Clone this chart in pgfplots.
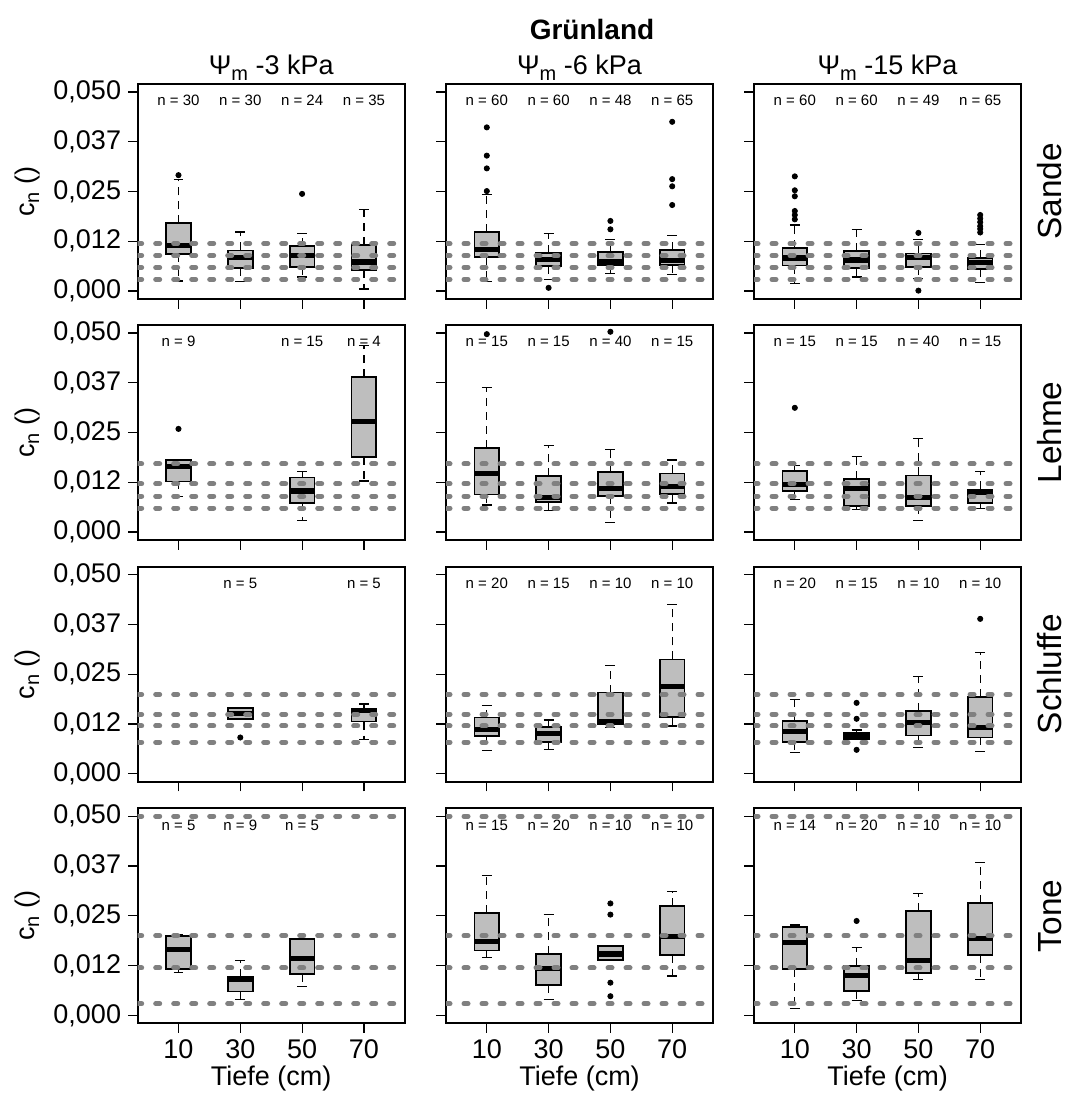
\documentclass[border=0pt]{standalone}
\usepackage{pgfplots}
\pgfplotsset{compat=1.18}
\usepackage{fontspec}
\setmainfont{Liberation Sans}
\definecolor{boxfill}{HTML}{BEBEBE}
\definecolor{refgray}{HTML}{808080}

\newcommand{\bfs}{\fontsize{13.5}{16}\selectfont}
\newcommand{\sub}[1]{\raisebox{-2.6pt}{\fontsize{10}{10}\selectfont #1}}

\pgfplotsset{
  panel/.style={
    scale only axis, width=133.5pt, height=107.5pt,
    anchor=south west,
    xmin=0.34, xmax=4.66, ymin=-0.002, ymax=0.052,
    xtick={1,2,3,4}, ytick={0,0.0125,0.025,0.0375,0.05},
    xticklabels={}, yticklabels={},
    scaled y ticks=false, scaled x ticks=false,
    xtick pos=left, ytick pos=left,
    tick align=outside, major tick length=4.8pt,
    axis line style={line width=0.9pt},
    tick style={black, line width=0.6pt},
    tick label style={font=\bfs},
  },
  ylab/.style={yticklabels={{\textnormal{0,000}},{\textnormal{0,012}},{\textnormal{0,025}},{\textnormal{0,037}},{\textnormal{0,050}}}},
  xlab/.style={xticklabels={{\textnormal{10}},{\textnormal{30}},{\textnormal{50}},{\textnormal{70}}}},
  wsk/.style={black, line width=0.6pt, dash pattern=on 4pt off 3pt, forget plot},
  cap/.style={black, line width=0.6pt, solid, forget plot},
  refline/.style={refgray, line width=2.5pt, line cap=round, dash pattern=on 2pt off 7pt, forget plot},
}

% \bx{pos}{lower whisker}{Q1}{median}{Q3}{upper whisker}
\newcommand{\bx}[6]{%
  \pgfmathsetmacro{\xl}{#1-0.2}\pgfmathsetmacro{\xr}{#1+0.2}%
  \pgfmathsetmacro{\cl}{#1-0.08}\pgfmathsetmacro{\cr}{#1+0.08}%
  \addplot[wsk] coordinates {(#1,#3) (#1,#2)};
  \addplot[wsk] coordinates {(#1,#5) (#1,#6)};
  \addplot[cap] coordinates {(\cl,#2) (\cr,#2)};
  \addplot[cap] coordinates {(\cl,#6) (\cr,#6)};
  \addplot[draw=black, fill=boxfill, line width=0.9pt, forget plot] coordinates {(\xl,#3) (\xr,#3) (\xr,#5) (\xl,#5)} -- cycle;
  \addplot[black, line width=2.6pt, forget plot] coordinates {(\xl,#4) (\xr,#4)};
}
\newcommand{\ol}[1]{\addplot[only marks, mark=*, mark size=1.3pt, black, forget plot] coordinates {#1};}
\newcommand{\refl}[1]{\addplot[refline] coordinates {(0.34,#1) (4.66,#1)};}
\newcommand{\nlab}[2]{\node[font=\fontsize{7.5}{8}\selectfont] at (axis cs:#1,0.0478) {n = #2};}

\begin{document}
\begin{tikzpicture}
\useasboundingbox (0,0) rectangle (533.5pt,547.5pt);

% ---------------- Row 1: Sande ----------------
\begin{axis}[panel, ylab, at={(68.85pt,398pt)}]
\bx{1}{0.0025}{0.0092}{0.0114}{0.0170}{0.0281}\ol{(1,0.0291)}
\bx{2}{0.0023}{0.0058}{0.0085}{0.0102}{0.0148}
\bx{3}{0.0035}{0.0060}{0.0089}{0.0113}{0.0145}\ol{(3,0.0244)}
\bx{4}{0.0005}{0.0052}{0.0073}{0.0116}{0.0204}
\refl{0.0119}\refl{0.0089}\refl{0.0059}\refl{0.0029}
\nlab{1}{30}\nlab{2}{30}\nlab{3}{24}\nlab{4}{35}
\end{axis}
\begin{axis}[panel, at={(223pt,398pt)}]
\bx{1}{0.0023}{0.0086}{0.0105}{0.0149}{0.0243}\ol{(1,0.0411)(1,0.0340)(1,0.0308)(1,0.0251)}
\bx{2}{0.0029}{0.0062}{0.0080}{0.0096}{0.0144}\ol{(2,0.0008)}
\bx{3}{0.0045}{0.0065}{0.0073}{0.0098}{0.0130}\ol{(3,0.0176)(3,0.0155)}
\bx{4}{0.0042}{0.0066}{0.0076}{0.0104}{0.0139}\ol{(4,0.0425)(4,0.0281)(4,0.0263)(4,0.0216)}
\refl{0.0119}\refl{0.0089}\refl{0.0059}\refl{0.0029}
\nlab{1}{60}\nlab{2}{60}\nlab{3}{48}\nlab{4}{65}
\end{axis}
\begin{axis}[panel, at={(377pt,398pt)}]
\bx{1}{0.0019}{0.0064}{0.0083}{0.0108}{0.0166}\ol{(1,0.0288)(1,0.0253)(1,0.0238)(1,0.0201)(1,0.0191)(1,0.0180)}
\bx{2}{0.0035}{0.0057}{0.0078}{0.0101}{0.0154}
\bx{3}{0.0032}{0.0061}{0.0084}{0.0094}{0.0129}\ol{(3,0.0146)(3,0.0001)}
\bx{4}{0.0021}{0.0055}{0.0072}{0.0082}{0.0116}\ol{(4,0.0191)(4,0.0182)(4,0.0173)(4,0.0163)(4,0.0156)(4,0.0147)}
\refl{0.0119}\refl{0.0089}\refl{0.0059}\refl{0.0029}
\nlab{1}{60}\nlab{2}{60}\nlab{3}{49}\nlab{4}{65}
\end{axis}

% ---------------- Row 2: Lehme ----------------
\begin{axis}[panel, ylab, at={(68.85pt,277.5pt)}]
\bx{1}{0.0090}{0.0127}{0.0165}{0.0180}{0.0180}\ol{(1,0.0259)}
\bx{3}{0.0029}{0.0072}{0.0103}{0.0137}{0.0152}
\bx{4}{0.0128}{0.0188}{0.0277}{0.0389}{0.0469}
\refl{0.0171}\refl{0.0121}\refl{0.0090}\refl{0.0060}
\nlab{1}{9}\nlab{3}{15}\nlab{4}{4}
\end{axis}
\begin{axis}[panel, at={(223pt,277.5pt)}]
\bx{1}{0.0068}{0.0094}{0.0148}{0.0212}{0.0364}\ol{(1,0.0497)}
\bx{2}{0.0055}{0.0075}{0.0087}{0.0140}{0.0217}
\bx{3}{0.0023}{0.0090}{0.0109}{0.0150}{0.0207}\ol{(3,0.0503)}
\bx{4}{0.0073}{0.0096}{0.0115}{0.0147}{0.0181}
\refl{0.0171}\refl{0.0121}\refl{0.0090}\refl{0.0060}
\nlab{1}{15}\nlab{2}{15}\nlab{3}{40}\nlab{4}{15}
\end{axis}
\begin{axis}[panel, at={(377pt,277.5pt)}]
\bx{1}{0.0081}{0.0103}{0.0119}{0.0153}{0.0168}\ol{(1,0.0312)}
\bx{2}{0.0056}{0.0065}{0.0110}{0.0134}{0.0190}
\bx{3}{0.0029}{0.0065}{0.0087}{0.0142}{0.0234}
\bx{4}{0.0060}{0.0073}{0.0100}{0.0107}{0.0152}
\refl{0.0171}\refl{0.0121}\refl{0.0090}\refl{0.0060}
\nlab{1}{15}\nlab{2}{15}\nlab{3}{40}\nlab{4}{15}
\end{axis}

% ---------------- Row 3: Schluffe ----------------
\begin{axis}[panel, ylab, at={(68.85pt,156.65pt)}]
\bx{2}{0.0138}{0.0138}{0.0151}{0.0165}{0.0165}\ol{(2,0.0091)}
\bx{4}{0.0086}{0.0131}{0.0158}{0.0163}{0.0175}
\refl{0.0199}\refl{0.0149}\refl{0.0120}\refl{0.0079}
\nlab{2}{5}\nlab{4}{5}
\end{axis}
\begin{axis}[panel, at={(223pt,156.65pt)}]
\bx{1}{0.0058}{0.0095}{0.0111}{0.0141}{0.0171}
\bx{2}{0.0060}{0.0080}{0.0101}{0.0117}{0.0135}
\bx{3}{0.0116}{0.0124}{0.0130}{0.0204}{0.0271}
\bx{4}{0.0120}{0.0142}{0.0219}{0.0287}{0.0426}
\refl{0.0199}\refl{0.0149}\refl{0.0120}\refl{0.0079}
\nlab{1}{20}\nlab{2}{15}\nlab{3}{10}\nlab{4}{10}
\end{axis}
\begin{axis}[panel, at={(377pt,156.65pt)}]
\bx{1}{0.0053}{0.0080}{0.0106}{0.0132}{0.0187}
\bx{2}{0.0085}{0.0087}{0.0094}{0.0103}{0.0110}\ol{(2,0.0178)(2,0.0138)(2,0.0060)}
\bx{3}{0.0065}{0.0096}{0.0128}{0.0157}{0.0245}
\bx{4}{0.0056}{0.0091}{0.0117}{0.0193}{0.0304}\ol{(4,0.0389)}
\refl{0.0199}\refl{0.0149}\refl{0.0120}\refl{0.0079}
\nlab{1}{20}\nlab{2}{15}\nlab{3}{10}\nlab{4}{10}
\end{axis}

% ---------------- Row 4: Tone ----------------
\begin{axis}[panel, ylab, xlab, at={(68.85pt,35.85pt)}]
\bx{1}{0.0108}{0.0117}{0.0165}{0.0199}{0.0203}
\bx{2}{0.0039}{0.0060}{0.0090}{0.0096}{0.0138}
\bx{3}{0.0073}{0.0104}{0.0143}{0.0191}{0.0191}
\refl{0.0500}\refl{0.0200}\refl{0.0119}\refl{0.0029}
\nlab{1}{5}\nlab{2}{9}\nlab{3}{5}
\end{axis}
\begin{axis}[panel, xlab, at={(223pt,35.85pt)}]
\bx{1}{0.0145}{0.0163}{0.0186}{0.0258}{0.0351}
\bx{2}{0.0039}{0.0076}{0.0117}{0.0154}{0.0253}
\bx{3}{0.0138}{0.0138}{0.0154}{0.0174}{0.0174}\ol{(3,0.0281)(3,0.0253)(3,0.0082)(3,0.0048)}
\bx{4}{0.0099}{0.0151}{0.0198}{0.0275}{0.0311}
\refl{0.0500}\refl{0.0200}\refl{0.0119}\refl{0.0029}
\nlab{1}{15}\nlab{2}{20}\nlab{3}{10}\nlab{4}{10}
\end{axis}
\begin{axis}[panel, xlab, at={(377pt,35.85pt)}]
\bx{1}{0.0017}{0.0116}{0.0183}{0.0221}{0.0227}
\bx{2}{0.0037}{0.0062}{0.0101}{0.0124}{0.0170}\ol{(2,0.0237)}
\bx{3}{0.0090}{0.0107}{0.0137}{0.0263}{0.0307}
\bx{4}{0.0090}{0.0151}{0.0193}{0.0283}{0.0383}
\refl{0.0500}\refl{0.0200}\refl{0.0119}\refl{0.0029}
\nlab{1}{14}\nlab{2}{20}\nlab{3}{10}\nlab{4}{10}
\end{axis}

% ---------------- Texts ----------------
\node[font=\fontsize{14}{16}\selectfont\bfseries, anchor=base] at (296pt,527.5pt) {Grünland};
\node[font=\bfs, anchor=base] at (135.6pt,510pt) {Ψ\sub{m} -3 kPa};
\node[font=\bfs, anchor=base] at (289.75pt,510pt) {Ψ\sub{m} -6 kPa};
\node[font=\bfs, anchor=base] at (443.75pt,510pt) {Ψ\sub{m} -15 kPa};

\foreach \yc/\lab in {451.75/Sande, 331.25/Lehme, 210.4/Schluffe, 89.6/Tone}{
  \node[font=\fontsize{16.7}{18}\selectfont, rotate=90, anchor=base] at (530.5pt,\yc pt) {\lab};
  \node[font=\bfs, rotate=90, anchor=base] at (17pt,\yc pt) {c\sub{n} ()};
}
\foreach \xc in {135.6, 289.75, 443.75}{
  \node[font=\bfs, anchor=base] at (\xc pt,5pt) {Tiefe (cm)};
}
\end{tikzpicture}
\end{document}
